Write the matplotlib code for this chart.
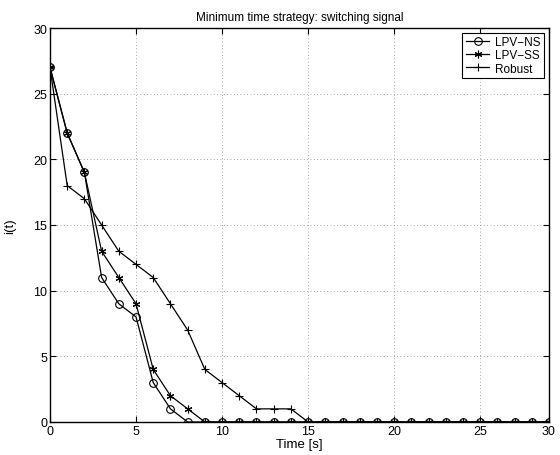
import numpy as np
import matplotlib.pyplot as plt

plt.rcParams['font.family'] = ['Liberation Sans', 'DejaVu Sans']

# time samples (s)
t = list(range(0, 30))

lpv_ns = [27, 22, 19, 11, 9, 8, 3, 1, 0] + [0] * 21
lpv_ss = [27, 22, 19, 13, 11, 9, 4, 2, 1] + [0] * 21
robust = [27, 18, 17, 15, 13, 12, 11, 9, 7, 4, 3, 2, 1, 1, 1] + [0] * 15

xtick_pos = [0, 5, 10, 15, 20, 25, 29]
xtick_lab = ['0', '5', '10', '15', '20', '25', '30']

fig = plt.figure(figsize=(5.6, 4.56), dpi=100)
ax = fig.add_axes([50/560, 33/456, 499/560, 394/456])

ax.plot(t, lpv_ns, 'k-', marker='o', mfc='none', ms=5.5, lw=0.9, mew=0.8, label='LPV\u2212NS')
ax.plot(t, lpv_ss, 'k-', marker=(6, 2, 0), ms=5.5, lw=0.9, mew=0.8, label='LPV\u2212SS')
ax.plot(t, robust, 'k-', marker='+', ms=6, lw=0.9, mew=0.8, label='Robust')

ax.set_xlim(0, 29)
ax.set_ylim(0, 30)
ax.set_xticks(xtick_pos)
ax.set_xticklabels(xtick_lab)
ax.set_yticks([0, 5, 10, 15, 20, 25, 30])

ax.grid(True, color='#888888', ls=(0, (1, 3)), lw=0.6)
ax.tick_params(direction='in', top=True, right=True, labelsize=9, length=4, width=0.8, pad=2)
for s in ax.spines.values():
    s.set_linewidth(1.0)

ax.set_title('Minimum time strategy: switching signal', fontsize=8.5, pad=6)
ax.set_xlabel('Time [s]', fontsize=9.5, labelpad=1)
ax.set_ylabel('i(t)', fontsize=9.5, labelpad=12)

leg = ax.legend(loc='upper right', fontsize=8.5, fancybox=False, framealpha=1,
                edgecolor='k', handlelength=2.0, borderpad=0.3, labelspacing=0.1,
                handletextpad=0.5, borderaxespad=0.4)
leg.get_frame().set_linewidth(0.8)

fig.savefig('out.png', dpi=100)
